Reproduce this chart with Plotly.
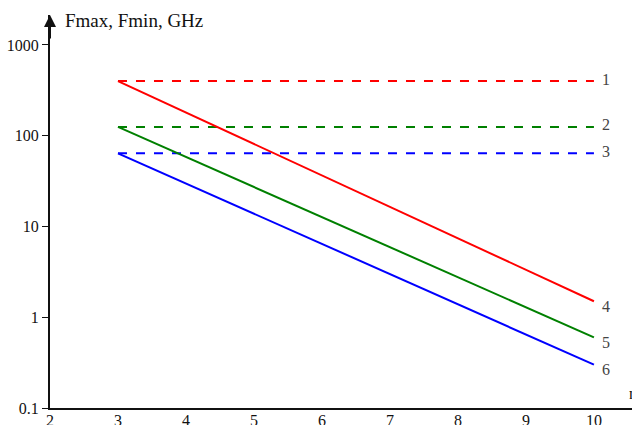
import math
import plotly.graph_objects as go

x_start = [3, 10]
fmax_const = {"1": 400, "2": 125, "3": 64}
fmin_lines = {"4": [400, 1.5], "5": [125, 0.6], "6": [64, 0.3]}
colors = {"1": "#ff0000", "2": "#008000", "3": "#0000ff",
          "4": "#ff0000", "5": "#008000", "6": "#0000ff"}
x_ticks = [2, 3, 4, 5, 6, 7, 8, 9, 10]
y_ticks = [0.1, 1, 10, 100, 1000]
y_tick_labels = ["0.1", "1", "10", "100", "1000"]

fig = go.Figure()
for k, v in fmax_const.items():
    fig.add_trace(go.Scatter(x=x_start, y=[v, v], mode="lines",
                             line=dict(color=colors[k], width=2, dash="dash"),
                             showlegend=False, hoverinfo="skip"))
for k, v in fmin_lines.items():
    fig.add_trace(go.Scatter(x=x_start, y=v, mode="lines",
                             line=dict(color=colors[k], width=2),
                             showlegend=False, hoverinfo="skip"))

annotations = []
label_y = {"1": fmax_const["1"], "2": fmax_const["2"], "3": fmax_const["3"],
           "4": fmin_lines["4"][1], "5": fmin_lines["5"][1], "6": fmin_lines["6"][1]}
for k, v in label_y.items():
    annotations.append(dict(x=x_start[1], y=math.log10(v), xref="x", yref="y", text=k,
                            showarrow=False, xanchor="left", xshift=6,
                            yshift=2 if k in "123" else -5,
                            font=dict(family="Liberation Serif", size=16, color="#444444")))
annotations.append(dict(x=2, y=1, xref="x", yref="y domain", ax=0, ay=25,
                        showarrow=True, arrowhead=2, arrowsize=1.2, arrowwidth=2,
                        arrowcolor="#111111", standoff=0, text=""))
annotations.append(dict(x=0.022, y=1.017, xref="paper", yref="paper", text="Fmax, Fmin, GHz",
                        showarrow=False, xanchor="left", yanchor="top",
                        font=dict(family="Liberation Serif", size=19, color="#111111")))
annotations.append(dict(x=1, y=0.01, xref="paper", yref="paper", text="n",
                        showarrow=False, xanchor="left", xshift=-5,
                        font=dict(family="Liberation Serif", size=16, color="#111111")))

fig.update_layout(
    width=632, height=425,
    margin=dict(l=50, r=0, t=15, b=17),
    paper_bgcolor="white", plot_bgcolor="white",
    annotations=annotations,
    font=dict(family="Liberation Serif", size=16, color="#111111"),
    xaxis=dict(range=[2, 10.56], tickvals=x_ticks, ticktext=[str(t) for t in x_ticks],
               showgrid=False, zeroline=False, showline=True, linecolor="#111111",
               linewidth=2, ticks="", tickfont=dict(size=16), automargin=False,
               ticklabelstandoff=-3),
    yaxis=dict(type="log", range=[-1, 3.33], tickvals=y_ticks, ticktext=y_tick_labels,
               showgrid=False, zeroline=False, showline=True, linecolor="#111111",
               linewidth=2, ticks="outside", ticklen=6, tickcolor="#111111",
               tickfont=dict(size=16), automargin=False),
)
fig.write_html("out.html", config={"displayModeBar": False},
               post_script="document.body.style.margin='0';document.body.style.overflow='hidden';")
